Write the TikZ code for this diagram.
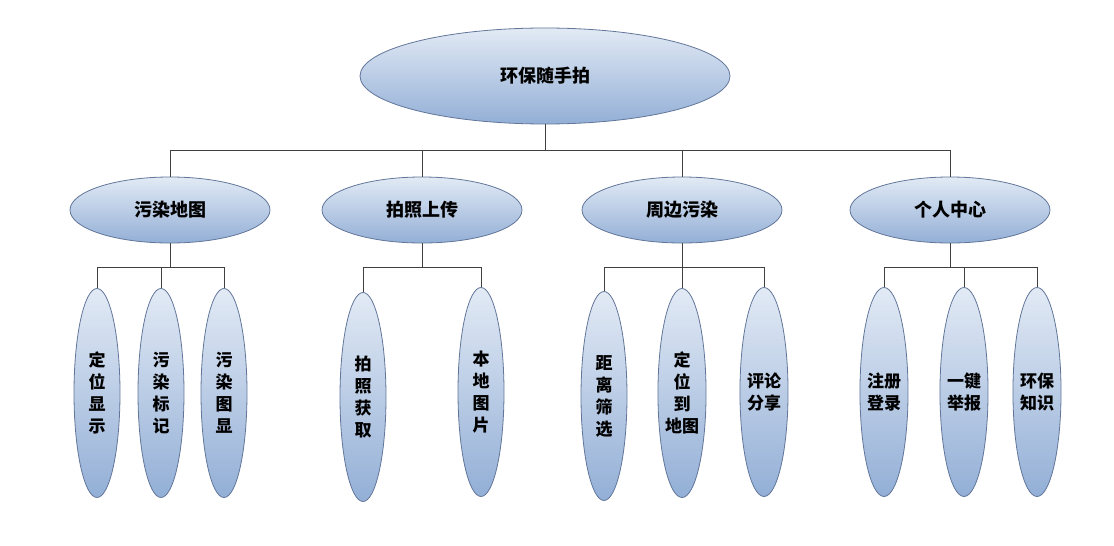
\documentclass[tikz,border=0pt]{standalone}
\usepackage{fontspec}
\newfontfamily\cjk{Noto Sans CJK SC}
\usetikzlibrary{shapes.geometric,positioning}
\definecolor{ovaltop}{HTML}{E2EAF5}
\definecolor{ovalbot}{HTML}{93AFD6}
\definecolor{ovalline}{HTML}{62769A}
\tikzstyle{oval} = [ellipse,draw=ovalline,line width=0.8pt,top color=ovaltop,bottom color=ovalbot,inner sep=0,text=black]
\tikzstyle{rootoval} = [oval,minimum width=370pt,minimum height=96pt,font=\cjk\bfseries\fontsize{18}{20}\selectfont]
\tikzstyle{groupoval} = [oval,minimum width=200pt,minimum height=66pt,font=\cjk\bfseries\fontsize{18}{20}\selectfont]
\tikzstyle{leafoval} = [oval,minimum width=46pt,minimum height=209pt,align=center,font=\cjk\bfseries\fontsize{17}{22}\selectfont]
\tikzstyle{link} = [-,draw=black!75,line width=0.8pt]

\begin{document}
\begin{tikzpicture}[x=1pt,y=-1pt]
  \useasboundingbox[fill=white] (0,0) rectangle (1114,546);
  % top
  \node[rootoval] (root) at (545,76) {环保随手拍};
  % groups
  \node[groupoval] (map) at (170,210) {污染地图};
  \node[groupoval] (photo) at (422,210) {拍照上传};
  \node[groupoval] (near) at (682,210) {周边污染};
  \node[groupoval] (me) at (950,210) {个人中心};
  % leaves
  \node[leafoval] (map1) at (97,393) {定\\位\\显\\示};
  \node[leafoval] (map2) at (161,393) {污\\染\\标\\记};
  \node[leafoval] (map3) at (224,393) {污\\染\\图\\显};
  \node[leafoval] (photo1) at (363,397) {拍\\照\\获\\取};
  \node[leafoval] (photo2) at (481,392) {本\\地\\图\\片};
  \node[leafoval] (near1) at (604,396) {距\\离\\筛\\选};
  \node[leafoval] (near2) at (682,393) {定\\位\\到\\地图};
  \node[leafoval] (near3) at (764,392) {评论\\分享};
  \node[leafoval] (me1) at (884,392) {注册\\登录};
  \node[leafoval] (me2) at (964,392) {一键\\举报};
  \node[leafoval] (me3) at (1037,392) {环保\\知识};
  % buses
  \coordinate (rootbus) at (545,150);
  \coordinate (mapbus) at (170,267);
  \coordinate (photobus) at (422,267);
  \coordinate (nearbus) at (682,267);
  \coordinate (mebus) at (950,267);
  \draw[link] (root.south) -- (rootbus);
  \foreach \g in {map,photo,near,me}
    \draw[link] (rootbus) -| (\g.north);
  \draw[link] (map.south) -- (mapbus);
  \draw[link] (photo.south) -- (photobus);
  \draw[link] (near.south) -- (nearbus);
  \draw[link] (me.south) -- (mebus);
  \foreach \n in {map1,map2,map3}
    \draw[link] (mapbus) -| (\n.north);
  \foreach \n in {photo1,photo2}
    \draw[link] (photobus) -| (\n.north);
  \foreach \n in {near1,near2,near3}
    \draw[link] (nearbus) -| (\n.north);
  \foreach \n in {me1,me2,me3}
    \draw[link] (mebus) -| (\n.north);
\end{tikzpicture}
\end{document}
